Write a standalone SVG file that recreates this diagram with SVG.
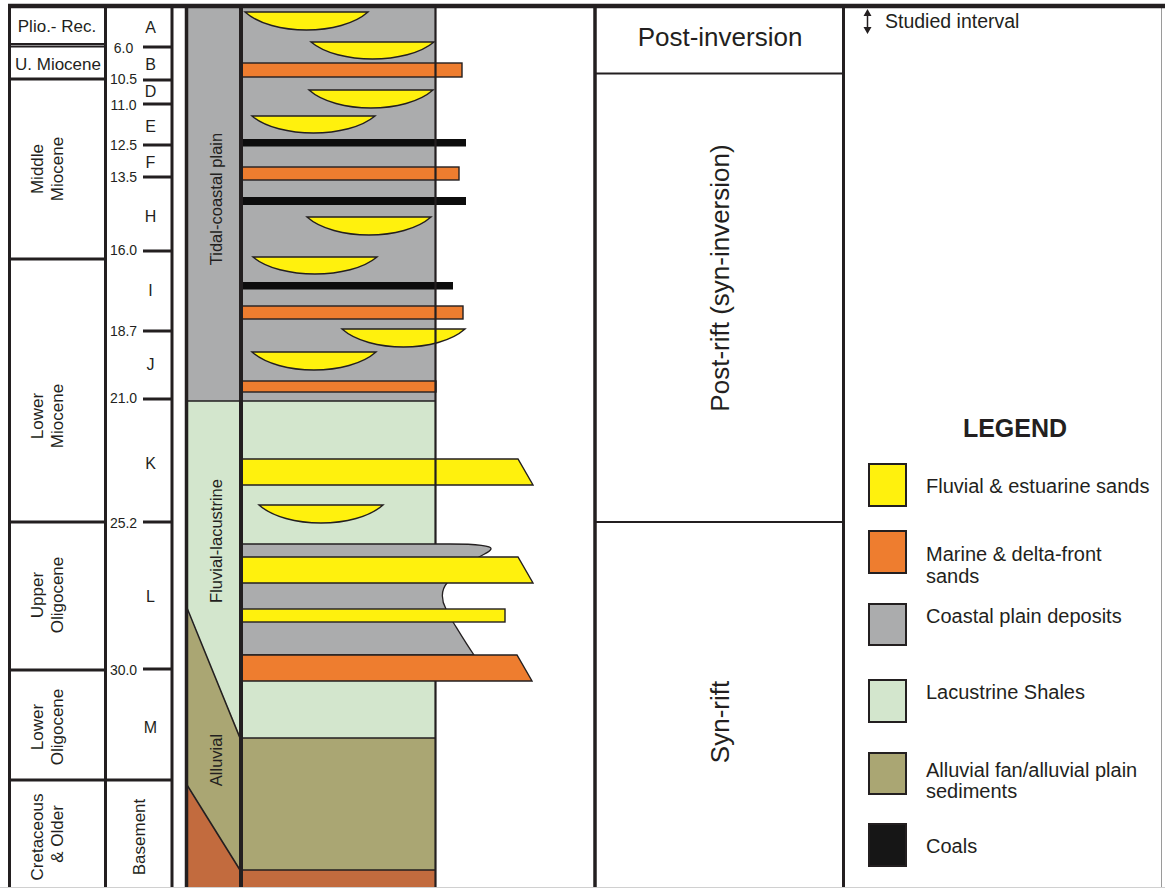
<svg xmlns="http://www.w3.org/2000/svg" width="1165" height="888" viewBox="0 0 1165 888">
  <style>
    .t{font-family:"Liberation Sans",Arial,sans-serif;fill:#231f20}
    .ep{font-size:17px;text-anchor:middle}
    .age{font-size:14px;text-anchor:middle}
    .zn{font-size:16px;text-anchor:middle}
    .lg{font-size:20px}
    .ln{stroke:#231f20;fill:none}
    .sand{fill:#fff10d;stroke:#231f20;stroke-width:1.4}
    .mar{fill:#ee7d2f;stroke:#231f20;stroke-width:1.4}
    .coal{fill:#0d0d0d}
    .cp{fill:#abacad}
    .lac{fill:#d3e6cd}
    .all{fill:#aaa673}
    .bas{fill:#c26b3e}
  </style>
  <rect width="1165" height="888" fill="#ffffff"/>

  <!-- facies belt column -->
  <g id="facies">
    <rect class="cp" x="186" y="6" width="55" height="395"/>
    <rect class="lac" x="186" y="401" width="55" height="487"/>
    <polygon class="all" points="186,608 241,738 241,870 186,785"/>
    <polygon class="bas" points="186,785 241,870 241,888 186,888"/>
    <path class="ln" stroke-width="1.6" d="M187 608L240 738M187 785L240 870M186 401H241"/>
    <text class="t" font-size="16.5" text-anchor="middle" transform="translate(222,199) rotate(-90)">Tidal-coastal plain</text>
    <text class="t" font-size="16.5" text-anchor="middle" transform="translate(222,541) rotate(-90)">Fluvial-lacustrine</text>
    <text class="t" font-size="16.5" text-anchor="middle" transform="translate(222,760) rotate(-90)">Alluvial</text>
  </g>

  <!-- lithological log -->
  <g id="lithology">
    <rect class="cp" x="241" y="6" width="194" height="395"/>
    <rect class="lac" x="241" y="401" width="194" height="143"/>
    <path class="cp" stroke="#231f20" stroke-width="1.3" d="M241 544H450C478 544 492 546 491 549C490 552 484 554 479 557L447 583C441 590 441 600 446 609L453 622C461 635 467 645 474 655H241Z"/>
    <rect class="lac" x="241" y="681" width="194" height="57"/>
    <rect class="all" x="241" y="738" width="194" height="132"/>
    <rect class="bas" x="241" y="870" width="194" height="18"/>
    <path class="ln" stroke-width="1.6" d="M241 401H435M241 738H435M241 870H435"/>

    <!-- channel lenses -->
    <path class="sand" d="M245 12H368C341 36 272 36 245 12Z"/>
    <path class="sand" d="M311 42H434C407 64.7 338 64.7 311 42Z"/>
    <path class="sand" d="M309 90H433C406 114 336 114 309 90Z"/>
    <path class="sand" d="M252 116H375C348 138.7 279 138.7 252 116Z"/>
    <path class="sand" d="M307 217H431C404 241 334 241 307 217Z"/>
    <path class="sand" d="M253 257H377C350 279.7 280 279.7 253 257Z"/>
    <path class="sand" d="M342 329H465C438 353 369 353 342 329Z"/>
    <path class="sand" d="M252 352H376C349 376 279 376 252 352Z"/>
    <path class="sand" d="M259 505H383C356 529 286 529 259 505Z"/>

    <!-- marine sands and coals -->
    <rect class="mar" x="241" y="63" width="221" height="14"/>
    <rect class="coal" x="241" y="139" width="225" height="7.5"/>
    <rect class="mar" x="241" y="167" width="218" height="13"/>
    <rect class="coal" x="241" y="197" width="225" height="8"/>
    <rect class="coal" x="241" y="282" width="212" height="7.5"/>
    <rect class="mar" x="241" y="306" width="222" height="13"/>
    <rect class="mar" x="241" y="381" width="195" height="11"/>

    <!-- sheet sands -->
    <polygon class="sand" points="241,459 518,459 533,485 241,485"/>
    <polygon class="sand" points="241,557 518,557 533,583 241,583"/>
    <rect class="sand" x="241" y="609" width="264" height="13"/>
    <polygon class="mar" points="241,655 517,655 532,681 241,681"/>

    <path class="ln" stroke-width="2.2" d="M435.5 6V544M435.5 681V888"/>
  </g>

  <!-- frame and column rules -->
  <g id="frame" class="ln">
    <path stroke-width="3" d="M9.5 6V888M105.5 6V888M172 6V888"/>
    <path stroke-width="3.5" d="M186.5 6V888"/>
    <path stroke-width="4" d="M241 6V888"/>
    <path stroke-width="3.5" d="M595 6V888"/>
    <path stroke-width="3" d="M843.5 6V888"/>
    <path stroke="#9a9a9a" stroke-width="1" d="M1161.5 6V888"/>
    <path stroke="#d0d0d0" stroke-width="1" d="M0 887.5H1165"/>
    <path stroke-width="2" d="M9 44H105M9 46.5H105"/>
    <path stroke-width="3" d="M9 79H105M9 259H105M9 522H105M9 670H105M9 780H172"/>
    <path stroke-width="3" d="M143 47H172M143 80H172M143 104H172M143 145H172M143 177H172M143 251H172M143 331H172M143 399H172M143 522H172M143 669H172"/>
    <path stroke-width="2" d="M595 73.5H843M595 522H843"/>
    <path stroke-width="4.5" d="M8 6H1165"/>
  </g>

  <!-- epochs -->
  <g id="epochs">
    <text class="t ep" x="57" y="32">Plio.- Rec.</text>
    <text class="t ep" x="58" y="70">U. Miocene</text>
    <text class="t ep" transform="translate(43,169) rotate(-90)">Middle</text>
    <text class="t ep" transform="translate(63,169) rotate(-90)">Miocene</text>
    <text class="t ep" transform="translate(43,416) rotate(-90)">Lower</text>
    <text class="t ep" transform="translate(63,416) rotate(-90)">Miocene</text>
    <text class="t ep" transform="translate(43,595) rotate(-90)">Upper</text>
    <text class="t ep" transform="translate(63,595) rotate(-90)">Oligocene</text>
    <text class="t ep" transform="translate(43,727) rotate(-90)">Lower</text>
    <text class="t ep" transform="translate(63,727) rotate(-90)">Oligocene</text>
    <text class="t ep" transform="translate(43,837) rotate(-90)">Cretaceous</text>
    <text class="t ep" transform="translate(63,834) rotate(-90)">&amp; Older</text>
  </g>

  <!-- sequences and ages (Ma) -->
  <g id="stages">
    <text class="t zn" x="150.5" y="33">A</text>
    <text class="t zn" x="150.5" y="70">B</text>
    <text class="t zn" x="150.5" y="97">D</text>
    <text class="t zn" x="150.5" y="132">E</text>
    <text class="t zn" x="150.5" y="168">F</text>
    <text class="t zn" x="150.5" y="222">H</text>
    <text class="t zn" x="150.5" y="296">I</text>
    <text class="t zn" x="150.5" y="370">J</text>
    <text class="t zn" x="150.5" y="469">K</text>
    <text class="t zn" x="150.5" y="602">L</text>
    <text class="t zn" x="150.5" y="733">M</text>
    <text class="t age" x="123.5" y="52.5">6.0</text>
    <text class="t age" x="123.5" y="84">10.5</text>
    <text class="t age" x="123.5" y="110">11.0</text>
    <text class="t age" x="123.5" y="150">12.5</text>
    <text class="t age" x="123.5" y="182">13.5</text>
    <text class="t age" x="123.5" y="255">16.0</text>
    <text class="t age" x="123.5" y="336">18.7</text>
    <text class="t age" x="123.5" y="403">21.0</text>
    <text class="t age" x="123.5" y="528">25.2</text>
    <text class="t age" x="123.5" y="675">30.0</text>
    <text class="t ep" transform="translate(145,837) rotate(-90)">Basement</text>
  </g>

  <!-- tectonic phases -->
  <g id="tectonics">
    <text class="t" font-size="26" text-anchor="middle" x="720" y="46">Post-inversion</text>
    <text class="t" font-size="26" text-anchor="middle" transform="translate(729,278) rotate(-90)">Post-rift (syn-inversion)</text>
    <text class="t" font-size="26" text-anchor="middle" transform="translate(729,722) rotate(-90)">Syn-rift</text>
  </g>

  <!-- legend -->
  <g id="legend">
    <path class="ln" stroke-width="1.5" d="M867.5 14V29"/>
    <path fill="#231f20" d="M867.5 9L863.5 16H871.5ZM867.5 34L863.5 27H871.5Z"/>
    <text class="t" font-size="19.5" x="885" y="28">Studied interval</text>
    <text class="t" font-size="25" font-weight="bold" text-anchor="middle" x="1015" y="437">LEGEND</text>
    <g stroke="#231f20" stroke-width="2">
      <rect x="869" y="464" width="37" height="42" fill="#fff10d"/>
      <rect x="869" y="531" width="37" height="42" fill="#ee7d2f"/>
      <rect x="869" y="604" width="37" height="41" fill="#abacad"/>
      <rect x="869" y="680" width="37" height="42" fill="#d3e6cd"/>
      <rect x="869" y="753" width="37" height="41" fill="#aaa673"/>
      <rect x="869" y="824" width="37" height="42" fill="#161616"/>
    </g>
    <text class="t lg" x="926" y="493">Fluvial &amp; estuarine sands</text>
    <text class="t lg" x="926" y="561">Marine &amp; delta-front</text>
    <text class="t lg" x="926" y="583">sands</text>
    <text class="t lg" x="926" y="623">Coastal plain deposits</text>
    <text class="t lg" x="926" y="699">Lacustrine Shales</text>
    <text class="t lg" x="926" y="777">Alluvial fan/alluvial plain</text>
    <text class="t lg" x="926" y="798">sediments</text>
    <text class="t lg" x="926" y="853">Coals</text>
  </g>
</svg>
